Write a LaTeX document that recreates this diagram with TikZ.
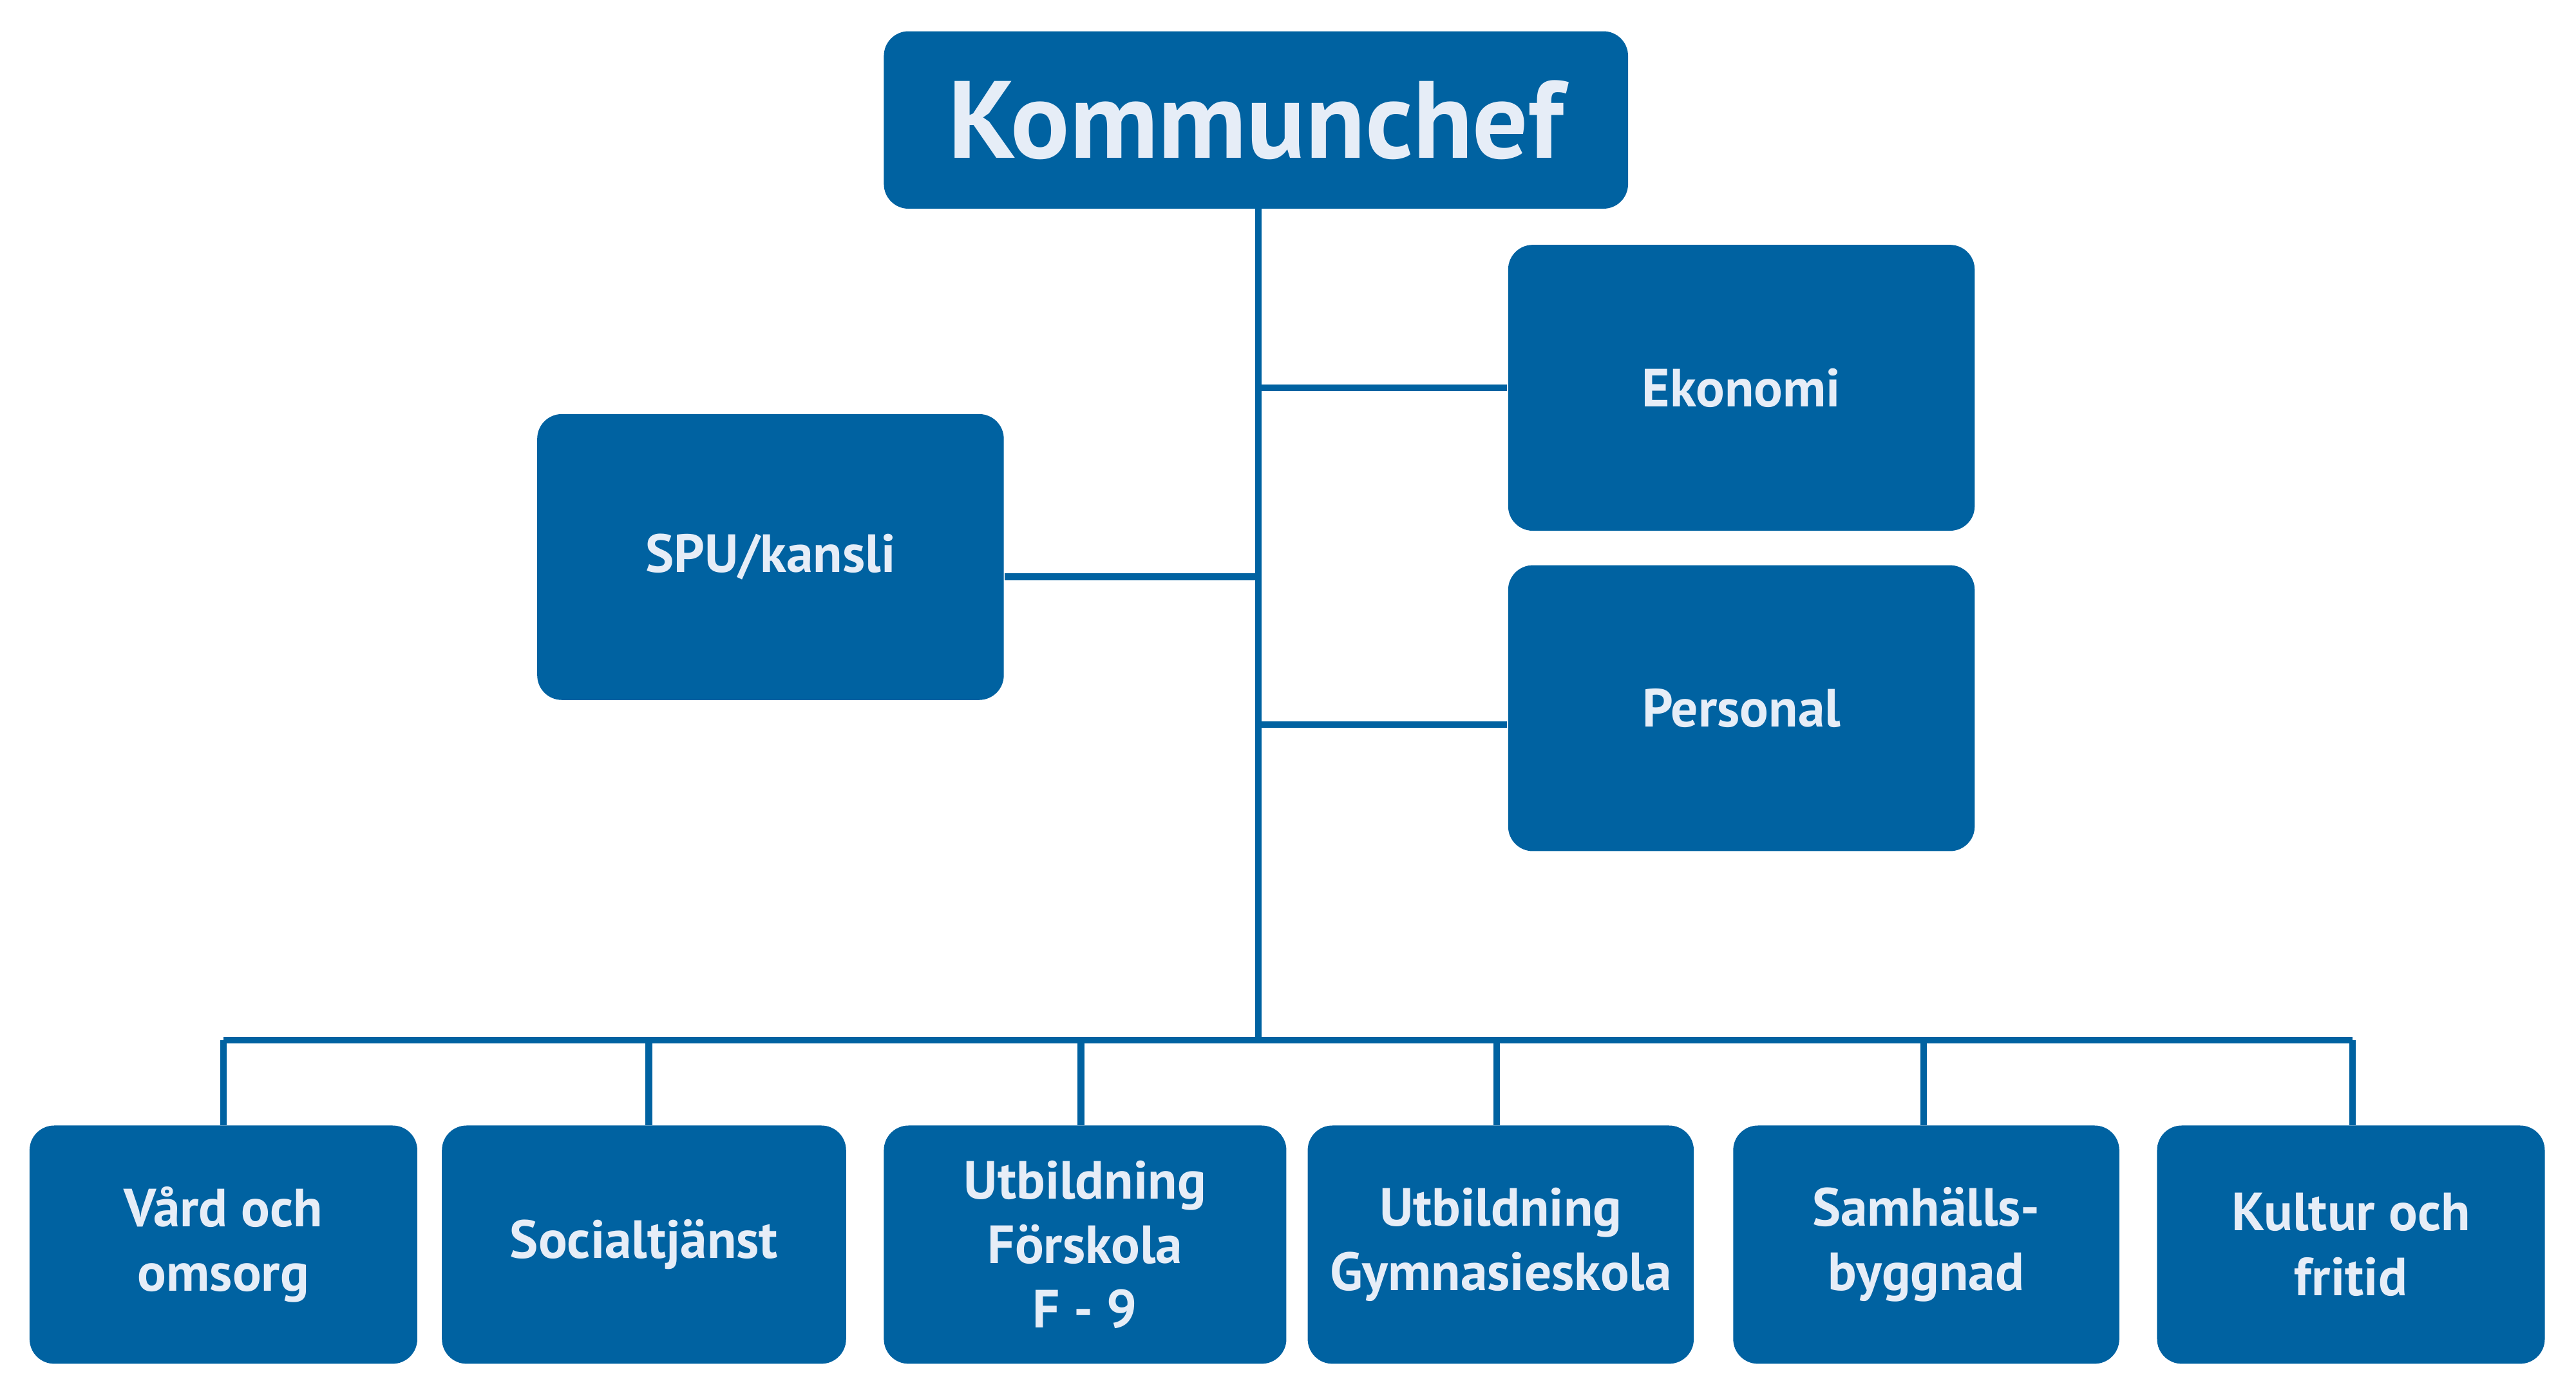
\documentclass[tikz,border=0pt]{standalone}
\usepackage{fontspec}
\setmainfont{PT Sans}
\definecolor{boxblue}{HTML}{0062A1}
\definecolor{txt}{HTML}{E6EDF7}
\begin{document}
\begin{tikzpicture}[x=0.01cm,y=-0.01cm,
  box/.style={fill=boxblue,rounded corners=0.15cm,inner sep=0pt,text=txt,font=\bfseries\fontsize{9.3}{11.2}\selectfont,align=center},
  conn/.style={draw=boxblue,line width=1.15pt}]
\useasboundingbox (0,0) rectangle (1568,850);
\newcommand{\bx}[6]{\node[box,minimum width=#4*0.01cm-#2*0.01cm,minimum height=#5*0.01cm-#3*0.01cm] (#1) at ({(#2+#4)/2},{(#3+#5)/2}) {#6};}
\bx{k}{538}{19}{991}{127}{\fontsize{19}{22}\selectfont Kommunchef}
\bx{eko}{918}{149}{1202}{323}{Ekonomi}
\bx{per}{918}{344}{1202}{518}{Personal}
\bx{spu}{327}{252}{611}{426}{SPU/kansli}
\bx{b1}{18}{685}{254}{830}{Vård och\\omsorg}
\bx{b2}{269}{685}{515}{830}{Socialtjänst}
\bx{b3}{538}{685}{783}{830}{Utbildning\\Förskola\\F - 9}
\bx{b4}{796}{685}{1031}{830}{Utbildning\\Gymnasieskola}
\bx{b5}{1055}{685}{1290}{830}{Samhälls-\\byggnad}
\bx{b6}{1313}{685}{1549}{830}{Kultur och\\fritid}
\coordinate (t) at (766,633);
\draw[conn] (766,127) -- (t);
\draw[conn] (766,236) -- (eko.west|-766,236);
\draw[conn] (766,441) -- (per.west|-766,441);
\draw[conn] (766,351) -- (spu.east|-766,351);
\draw[conn] (136,633) -- (1432,633);
\foreach \x/\n in {136/b1,395/b2,658/b3,911/b4,1171/b5,1432/b6}
  \draw[conn] (\x,633) -- (\x,685);
\end{tikzpicture}
\end{document}
